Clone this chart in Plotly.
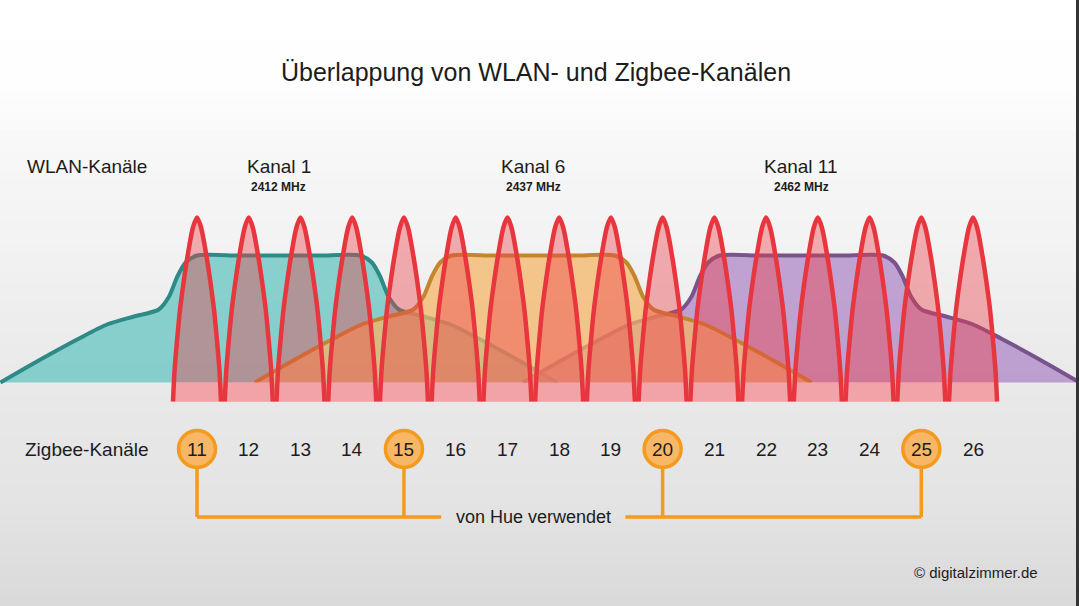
import plotly.graph_objects as go

# Zigbee channels 11..26 and their centre frequencies (MHz)
zigbee_ch = [11, 12, 13, 14, 15, 16, 17, 18, 19, 20, 21, 22, 23, 24, 25, 26]
zigbee_mhz = [2405, 2410, 2415, 2420, 2425, 2430, 2435, 2440, 2445, 2450,
              2455, 2460, 2465, 2470, 2475, 2480]
hue_ch = [11, 15, 20, 25]

# WLAN channels as drawn in the picture
wlan_names = ["Kanal 1", "Kanal 6", "Kanal 11"]
wlan_freq_txt = ["2412 MHz", "2437 MHz", "2462 MHz"]
wlan_centre = [2412.9, 2437.5, 2463.4]

# WLAN spectral mask: offset from centre (MHz) -> level
mask_off = [-26.9, -23.2, -19.3, -16.6, -14.0, -11.6, -10.6, -9.8, -9.0, -7.9,
            -4.0, 0.0, 4.0,
            7.9, 9.0, 9.8, 10.6, 11.6, 14.0, 16.6, 19.3, 23.2, 26.9]
mask_lvl = [0, 22, 44, 58, 66, 73, 86, 106, 120, 127,
            127, 127, 127,
            127, 120, 106, 86, 73, 66, 58, 44, 22, 0]

# one Zigbee channel peak: offset (MHz) -> level
peak_off = [-2.32, -2.17, -1.93, -1.64, -1.30, -0.92, -0.39, 0.0,
            0.39, 0.92, 1.30, 1.64, 1.93, 2.17, 2.32]
peak_lvl = [-19, 12, 42, 73, 100, 126, 155, 165,
            155, 126, 100, 73, 42, 12, -19]

# colours per WLAN channel (1, 6, 11)
wlan_fill = ["rgba(95,195,192,0.72)", "rgba(245,180,100,0.72)", "rgba(160,110,190,0.6)"]
wlan_line = ["#2e8a86", "#c5852e", "#7a538c"]
draw_order = [0, 2, 1]  # teal, purple, then orange on top

FONT = "Liberation Sans"
ORANGE = "#f39a1f"
TXT = "#1c1c1c"

fig = go.Figure()

for i in draw_order:
    xs = [wlan_centre[i] + o for o in mask_off]
    fig.add_trace(go.Scatter(
        x=xs, y=mask_lvl, mode="lines", fill="tozeroy",
        fillcolor=wlan_fill[i],
        line=dict(color=wlan_line[i], width=4, shape="spline", smoothing=0.7),
        hoverinfo="skip"))

# zigbee peaks
px, py = [], []
for f in zigbee_mhz:
    px += [f + o for o in peak_off] + [None]
    py += peak_lvl + [None]

fig.add_trace(go.Scatter(
    x=px, y=py, mode="lines", fill="toself",
    fillcolor="rgba(238,60,70,0.40)",
    line=dict(width=0, shape="spline", smoothing=0.8),
    hoverinfo="skip"))

# pink band under the baseline
x_l = zigbee_mhz[0] + peak_off[0]
x_r = zigbee_mhz[-1] + peak_off[-1]
fig.add_trace(go.Scatter(
    x=[x_l, x_r, x_r, x_l, x_l], y=[peak_lvl[0], peak_lvl[0], 0, 0, peak_lvl[0]],
    mode="lines", fill="toself", fillcolor="#f2a3a7",
    line=dict(width=0), hoverinfo="skip"))

fig.add_trace(go.Scatter(
    x=px, y=py, mode="lines",
    line=dict(color="#e8363e", width=4.5, shape="spline", smoothing=0.8),
    hoverinfo="skip"))

# "von Hue verwendet" bracket
hue_mhz = [zigbee_mhz[zigbee_ch.index(c)] for c in hue_ch]
y_row = -66.5
y_br = -134.5
mid = (hue_mhz[1] + hue_mhz[2]) / 2
gap = 8.9
bx, by = [], []
for f in hue_mhz:
    bx += [f, f, None]
    by += [y_row - 19, y_br, None]
bx += [hue_mhz[0], mid - gap, None, mid + gap, hue_mhz[-1]]
by += [y_br, y_br, None, y_br, y_br]
fig.add_trace(go.Scatter(x=bx, y=by, mode="lines",
                         line=dict(color=ORANGE, width=3.5), hoverinfo="skip"))

shapes = []
# background gradient
stops = [(0, 255), (90, 254), (140, 248), (250, 242), (400, 232), (500, 228), (606, 218)]
H = 606
n = 60
for k in range(n):
    y0 = H * k / n
    yc = y0 + H / n / 2
    for (a, ca), (b, cb) in zip(stops[:-1], stops[1:]):
        if a <= yc <= b:
            c = int(round(ca + (cb - ca) * (yc - a) / (b - a)))
            break
    shapes.append(dict(type="rect", xref="paper", yref="paper", layer="below",
                       x0=0, x1=1, y0=1 - (k + 1) / n, y1=1 - k / n + 0.001,
                       line=dict(width=0), fillcolor=f"rgb({c},{c},{c})"))
# dark strip at the right edge
shapes.append(dict(type="rect", xref="paper", yref="paper", layer="above",
                   x0=1076 / 1079, x1=1, y0=0, y1=1,
                   line=dict(width=0), fillcolor="#333333"))

# hue circles
for f in hue_mhz:
    shapes.append(dict(type="circle", xref="x", yref="y",
                       xsizemode="pixel", ysizemode="pixel",
                       xanchor=f, yanchor=y_row,
                       x0=-18.5, x1=18.5, y0=-18.5, y1=18.5,
                       fillcolor="#f8b766", line=dict(color=ORANGE, width=3.5),
                       layer="above"))

ann = []
ann.append(dict(text="Überlappung von WLAN- und Zigbee-Kanälen", x=0.497, y=1 - 72 / 606,
                xref="paper", yref="paper", xanchor="center", yanchor="middle",
                showarrow=False, font=dict(family=FONT, size=25, color=TXT)))
ann.append(dict(text="WLAN-Kanäle", x=2388.4, y=216.5, xanchor="left", showarrow=False,
                font=dict(family=FONT, size=19, color=TXT)))
ann.append(dict(text="Zigbee-Kanäle", x=2388.2, y=y_row, xanchor="left", showarrow=False,
                font=dict(family=FONT, size=19, color=TXT)))
for name, ftxt, c in zip(wlan_names, wlan_freq_txt, wlan_centre):
    ann.append(dict(text=name, x=c, y=216.5, showarrow=False,
                    font=dict(family=FONT, size=19, color=TXT)))
    ann.append(dict(text="<b>" + ftxt + "</b>", x=c, y=195.5, showarrow=False,
                    font=dict(family=FONT, size=12, color=TXT)))
for ch, f in zip(zigbee_ch, zigbee_mhz):
    ann.append(dict(text=str(ch), x=f, y=y_row, showarrow=False,
                    font=dict(family=FONT, size=19, color=TXT)))
ann.append(dict(text="von Hue verwendet", x=mid, y=y_br, showarrow=False,
                font=dict(family=FONT, size=18, color=TXT)))
ann.append(dict(text="© digitalzimmer.de", x=2486.5, y=-189.5, xanchor="right",
                showarrow=False, font=dict(family=FONT, size=15, color=TXT)))

fig.update_layout(
    width=1079, height=606,
    margin=dict(l=0, r=0, t=0, b=0),
    paper_bgcolor="#ffffff", plot_bgcolor="rgba(0,0,0,0)",
    showlegend=False,
    shapes=shapes, annotations=ann,
    xaxis=dict(range=[2385.96, 2490.24], visible=False, fixedrange=True),
    yaxis=dict(range=[-223.5, 382.5], visible=False, fixedrange=True),
)

fig.write_html("out.html", config={"displayModeBar": False},
               post_script="document.body.style.margin='0';")
